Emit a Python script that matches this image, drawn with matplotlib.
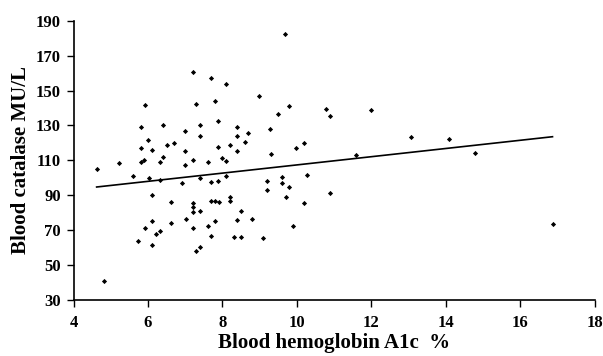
import numpy as np
import matplotlib
matplotlib.use("Agg")
import matplotlib.pyplot as plt

# ---------------------------------
# Data
# ---------------------------------
hba1c = [
    4.62, 4.83, 5.22, 5.61, 5.72, 5.80, 5.81, 5.81, 5.92, 5.90,
    5.93, 6.00, 6.02, 6.11, 6.11, 6.11, 6.11, 6.22, 6.32, 6.32,
    6.32, 6.41, 6.41, 6.51, 6.61, 6.61, 6.70, 6.91, 7.00, 7.00,
    7.00, 7.01, 7.20, 7.21, 7.21, 7.21, 7.21, 7.21, 7.29, 7.30,
    7.41, 7.41, 7.41, 7.41, 7.41, 7.61, 7.61, 7.69, 7.70, 7.70,
    7.70, 7.79, 7.80, 7.80, 7.89, 7.89, 7.89, 7.90, 8.00, 8.10,
    8.10, 8.10, 8.20, 8.21, 8.21, 8.30, 8.39, 8.39, 8.39, 8.40,
    8.49, 8.49, 8.60, 8.69, 8.79, 8.99, 9.09, 9.20, 9.20, 9.29,
    9.30, 9.49, 9.59, 9.59, 9.69, 9.71, 9.79, 9.79, 9.89, 9.98,
    10.19, 10.19, 10.28, 10.78, 10.88, 10.90, 11.58, 11.98, 13.07, 14.08,
    14.78, 16.87,
]
catalase = [
    105.1, 41.0, 108.5, 100.9, 63.6, 109.2, 117.0, 128.9, 141.5, 110.5,
    71.0, 121.5, 100.1, 116.0, 90.3, 75.5, 61.3, 68.1, 69.4, 109.2,
    98.6, 111.8, 130.0, 118.9, 86.3, 74.3, 120.0, 96.9, 126.8, 115.1,
    107.3, 76.7, 160.7, 110.0, 85.6, 83.3, 80.5, 71.1, 142.4, 58.3,
    130.2, 124.0, 99.9, 81.2, 60.2, 109.2, 72.3, 157.1, 97.5, 87.0,
    66.6, 144.1, 87.0, 75.2, 132.3, 117.5, 98.1, 86.4, 111.3, 153.9,
    109.8, 100.9, 118.9, 89.2, 86.5, 66.1, 128.9, 124.0, 115.1, 75.6,
    81.3, 66.0, 120.8, 125.9, 76.5, 147.1, 65.3, 98.1, 93.0, 128.2,
    113.5, 136.4, 100.5, 96.8, 182.3, 89.0, 141.0, 94.7, 72.7, 117.0,
    119.8, 85.7, 101.5, 139.5, 135.3, 91.4, 113.0, 139.0, 123.1, 122.3,
    114.3, 73.4,
]

# trend line as shown on the chart
trend_slope = 2.35
trend_intercept = 83.9

x_ticks = [4, 6, 8, 10, 12, 14, 16, 18]
y_ticks = [30, 50, 70, 90, 110, 130, 150, 170, 190]

# ---------------------------------
# Plot
# ---------------------------------
plt.rcParams["font.family"] = "Liberation Serif"
plt.rcParams["font.weight"] = "bold"

fig = plt.figure(figsize=(6.03, 3.56), dpi=100)
ax = fig.add_axes([0.122, 0.157, 0.864, 0.785])

ax.scatter(hba1c, catalase, marker="D", s=7, color="black", linewidths=0, zorder=3)

xs = np.array([min(hba1c), max(hba1c)])
ax.plot(xs, trend_intercept + trend_slope * xs, color="black", linewidth=1.2)

ax.set_xlim(4, 18)
ax.set_ylim(30, 190)
ax.set_xticks(x_ticks)
ax.set_yticks(y_ticks)
ax.tick_params(direction="out", length=5, width=1, labelsize=12, colors="black")
ax.tick_params(axis="x", pad=6)
ax.tick_params(axis="y", pad=4)
for lab in ax.get_xticklabels() + ax.get_yticklabels():
    lab.set_fontweight("bold")

ax.spines["top"].set_visible(False)
ax.spines["right"].set_visible(False)
ax.spines["left"].set_linewidth(1.2)
ax.spines["bottom"].set_linewidth(1.2)

ax.set_xlabel("Blood hemoglobin A1c  %", fontsize=15, fontweight="bold", labelpad=1)
ax.set_ylabel("Blood catalase MU/L", fontsize=15, fontweight="bold", labelpad=4)

fig.savefig("out.png", dpi=100)
plt.close(fig)
